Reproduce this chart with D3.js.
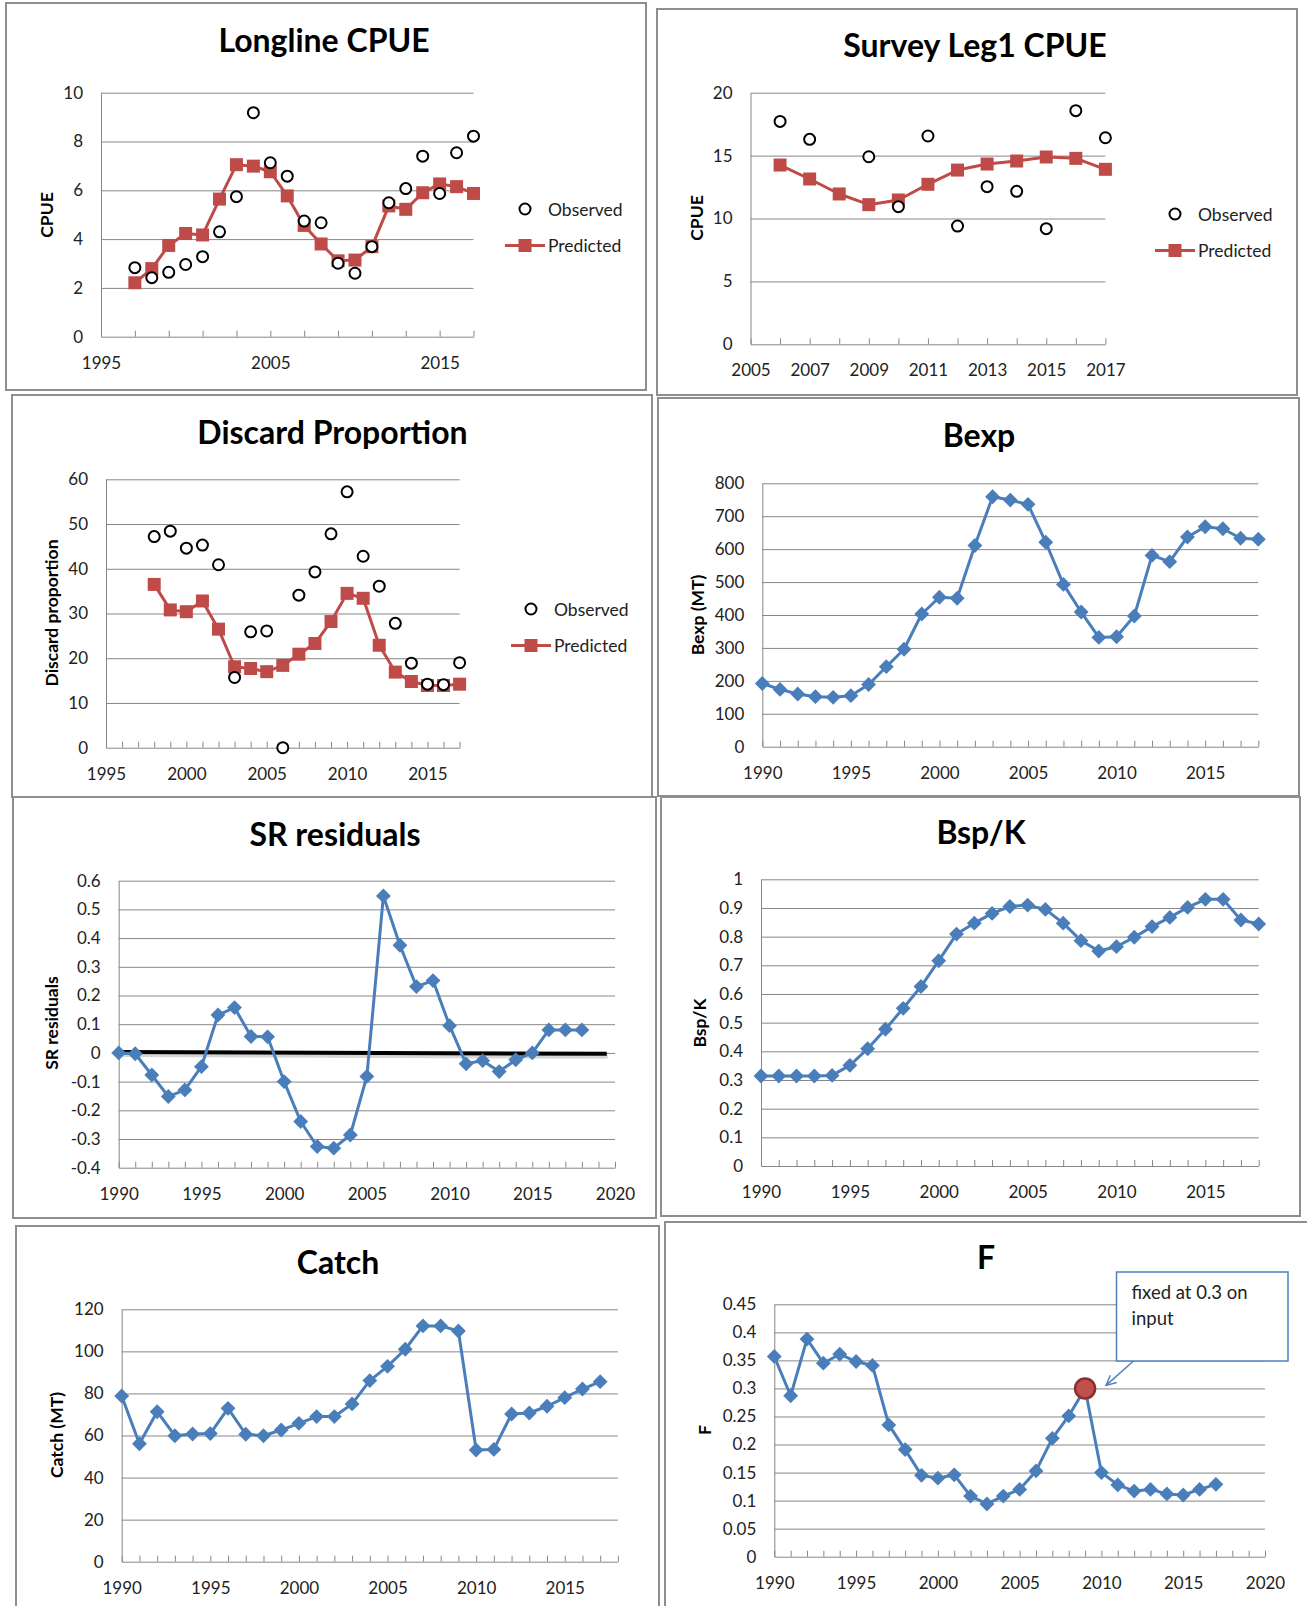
<!DOCTYPE html>
<html><head><meta charset="utf-8">
<script src="https://cdn.jsdelivr.net/npm/d3@7"></script>
<style>
body{margin:0;background:#fff;}
svg{display:block;}
</style></head><body>
<svg id="chart" width="1307" height="1606"></svg>
<script>
// ---------------- DATA ----------------
const longlineYears = [1997,1998,1999,2000,2001,2002,2003,2004,2005,2006,2007,2008,2009,2010,2011,2012,2013,2014,2015,2016,2017];
const longlineObserved = [2.83,2.42,2.64,2.96,3.28,4.30,5.74,9.18,7.13,6.58,4.74,4.67,3.01,2.60,3.69,5.49,6.07,7.40,5.87,7.54,8.22];
const longlinePredicted = [2.21,2.79,3.74,4.23,4.17,5.64,7.05,6.99,6.76,5.77,4.56,3.80,3.11,3.14,3.69,5.36,5.22,5.90,6.26,6.15,5.87];
const longlineXLabels = [1995,2005,2015];
const longlineYTicks = [0,2,4,6,8,10];

const surveyObsYears = [2006,2007,2009,2010,2011,2012,2013,2014,2015,2016,2017];
const surveyObserved = [17.72,16.29,14.91,10.94,16.56,9.40,12.53,12.16,9.19,18.57,16.42];
const surveyPredYears = [2006,2007,2008,2009,2010,2011,2012,2013,2014,2015,2016,2017];
const surveyPredicted = [14.25,13.14,11.95,11.10,11.47,12.72,13.85,14.33,14.57,14.89,14.78,13.91];
const surveyXLabels = [2005,2007,2009,2011,2013,2015,2017];
const surveyYTicks = [0,5,10,15,20];

const discardYears = [1998,1999,2000,2001,2002,2003,2004,2005,2006,2007,2008,2009,2010,2011,2012,2013,2014,2015,2016,2017];
const discardObserved = [47.2,48.4,44.6,45.3,40.9,15.7,25.9,26.1,0,34.1,39.3,47.8,57.2,42.8,36.1,27.8,18.9,14.2,14.1,19.0];
const discardPredicted = [36.5,30.8,30.4,32.8,26.5,18.1,17.7,17.0,18.4,20.9,23.3,28.2,34.5,33.4,22.9,16.9,14.8,13.9,13.9,14.2];
const discardXLabels = [1995,2000,2005,2010,2015];
const discardYTicks = [0,10,20,30,40,50,60];

const bexpYears = [1990,1991,1992,1993,1994,1995,1996,1997,1998,1999,2000,2001,2002,2003,2004,2005,2006,2007,2008,2009,2010,2011,2012,2013,2014,2015,2016,2017,2018];
const bexpValues = [192,174,160,152,150,155,189,243,296,403,454,451,611,759,749,736,621,493,409,332,334,397,581,562,637,668,662,633,630];
const bexpXLabels = [1990,1995,2000,2005,2010,2015];
const bexpYTicks = [0,100,200,300,400,500,600,700,800];

const srYears = [1990,1991,1992,1993,1994,1995,1996,1997,1998,1999,2000,2001,2002,2003,2004,2005,2006,2007,2008,2009,2010,2011,2012,2013,2014,2015,2016,2017,2018];
const srValues = [0.000,-0.003,-0.077,-0.152,-0.129,-0.048,0.132,0.158,0.057,0.056,-0.100,-0.239,-0.326,-0.332,-0.286,-0.082,0.547,0.375,0.231,0.252,0.095,-0.038,-0.027,-0.065,-0.024,0.000,0.080,0.080,0.080];
const srZeroLineYears = [1990,2019.5];
const srZeroLineValues = [0.003,-0.003];
const srXLabels = [1990,1995,2000,2005,2010,2015,2020];
const srYTicks = [-0.4,-0.3,-0.2,-0.1,0,0.1,0.2,0.3,0.4,0.5,0.6];

const bspYears = [1990,1991,1992,1993,1994,1995,1996,1997,1998,1999,2000,2001,2002,2003,2004,2005,2006,2007,2008,2009,2010,2011,2012,2013,2014,2015,2016,2017,2018];
const bspValues = [0.314,0.314,0.314,0.314,0.316,0.351,0.409,0.477,0.550,0.626,0.716,0.809,0.847,0.881,0.905,0.910,0.895,0.847,0.786,0.750,0.765,0.798,0.835,0.867,0.902,0.930,0.930,0.858,0.844];
const bspXLabels = [1990,1995,2000,2005,2010,2015];
const bspYTicks = [0,0.1,0.2,0.3,0.4,0.5,0.6,0.7,0.8,0.9,1];

const catchYears = [1990,1991,1992,1993,1994,1995,1996,1997,1998,1999,2000,2001,2002,2003,2004,2005,2006,2007,2008,2009,2010,2011,2012,2013,2014,2015,2016,2017];
const catchValues = [78.8,56.1,71.3,59.9,60.7,60.9,72.9,60.6,59.9,62.6,65.8,69.0,69.0,75.0,86.1,92.9,101.0,112.1,112.1,109.7,53.1,53.4,70.2,70.7,73.9,78.0,82.1,85.6];
const catchXLabels = [1990,1995,2000,2005,2010,2015];
const catchYTicks = [0,20,40,60,80,100,120];

const fYears = [1990,1991,1992,1993,1994,1995,1996,1997,1998,1999,2000,2001,2002,2003,2004,2005,2006,2007,2008,2009,2010,2011,2012,2013,2014,2015,2016,2017];
const fValues = [0.357,0.287,0.388,0.345,0.361,0.348,0.341,0.235,0.191,0.145,0.140,0.146,0.108,0.094,0.108,0.120,0.153,0.211,0.251,0.300,0.150,0.128,0.117,0.120,0.112,0.110,0.120,0.129];
const fFixedYear = [2009];
const fFixedValue = [0.3];
const fNoteLines = ["fixed at 0.3 on", "input"];
const fXLabels = [1990,1995,2000,2005,2010,2015,2020];
const fYTicks = [0,0.05,0.1,0.15,0.2,0.25,0.3,0.35,0.4,0.45];

const legendLabels = ["Observed", "Predicted"];

// ---------------- STYLE ----------------
const FONT = "Lato, 'Open Sans', 'Noto Sans', sans-serif";
const GRID = '#878787';
const BLUE = '#4A7EBB';
const RED = '#BE4B48';

const svg = d3.select('#chart');
svg.append('rect').attr('width', 1307).attr('height', 1606).attr('fill', '#fff');

function drawPanel(o) {
  const g = svg.append('g');
  const [bx0, by0, bx1, by1] = o.box;
  g.append('rect').attr('x', bx0).attr('y', by0).attr('width', bx1 - bx0).attr('height', by1 - by0)
    .attr('fill', '#fff').attr('stroke', '#8e8e8e').attr('stroke-width', 2);

  const [px0, py0, px1, py1] = o.plot;
  const x = d3.scaleLinear().domain(o.xDomain).range([px0, px1]);
  const y = d3.scaleLinear().domain(o.yDomain).range([py1, py0]);

  // gridlines
  g.append('g').attr('transform', `translate(${px0},0)`)
    .call(d3.axisLeft(y).tickValues(o.yTicks.filter(v => v !== o.yDomain[0])).tickSize(-(px1 - px0)).tickFormat(''))
    .call(s => s.select('.domain').remove())
    .call(s => s.selectAll('line').attr('stroke', GRID).attr('stroke-width', 1));

  // y axis labels + line
  g.append('g').attr('transform', `translate(${px0},0)`)
    .call(d3.axisLeft(y).tickValues(o.yTicks).tickSize(0).tickPadding(18).tickFormat(d => String(d)))
    .call(s => s.select('.domain').attr('stroke', GRID).attr('stroke-width', 1))
    .call(s => s.selectAll('text').attr('font-size', 17).attr('font-family', FONT).attr('fill', '#222'));

  // x axis
  const minor = d3.range(o.xDomain[0], o.xDomain[1] + 0.001, o.xMinorStep);
  g.append('g').attr('transform', `translate(0,${py1})`)
    .call(d3.axisBottom(x).tickValues(minor).tickSizeInner(-6).tickSizeOuter(0).tickPadding(20)
      .tickFormat(d => o.xLabels.includes(d) ? String(d) : ''))
    .call(s => s.select('.domain').attr('stroke', GRID).attr('stroke-width', 1))
    .call(s => s.selectAll('line').attr('stroke', GRID).attr('stroke-width', 1))
    .call(s => s.selectAll('text').attr('font-size', 17).attr('font-family', FONT).attr('fill', '#222'));

  // title
  g.append('text').attr('x', o.title.x).attr('y', o.title.y).attr('text-anchor', 'middle')
    .attr('font-family', FONT).attr('font-weight', 700).attr('font-size', 32).attr('fill', '#000')
    .text(o.title.text);

  // y-axis title
  g.append('text').attr('transform', `translate(${o.yTitle.x},${o.yTitle.y}) rotate(-90)`)
    .attr('text-anchor', 'middle').attr('dominant-baseline', 'central')
    .attr('font-family', FONT).attr('font-weight', 700).attr('font-size', 17.5).attr('fill', '#000')
    .text(o.yTitle.text);

  if (o.pre) o.pre(g, x, y);

  o.series.forEach(s => {
    const pts = s.xs.map((xx, i) => [xx, s.ys[i]]);
    if (s.line) {
      g.append('path').datum(pts)
        .attr('d', d3.line().x(d => x(d[0])).y(d => y(d[1])))
        .attr('fill', 'none').attr('stroke', s.color).attr('stroke-width', 3)
        .attr('stroke-linejoin', 'round');
    }
    drawMarkers(g, pts.map(d => [x(d[0]), y(d[1])]), s.marker, s.color);
  });

  if (o.legend) {
    const L = o.legend;
    drawMarkers(g, [[L.x, L.y1]], 'circle', '#000');
    g.append('line').attr('x1', L.x - 20).attr('x2', L.x + 20).attr('y1', L.y2).attr('y2', L.y2)
      .attr('stroke', RED).attr('stroke-width', 3);
    drawMarkers(g, [[L.x, L.y2]], 'square', RED);
    [L.y1, L.y2].forEach((yy, i) => {
      g.append('text').attr('x', L.x + 23).attr('y', yy).attr('dominant-baseline', 'central')
        .attr('font-family', FONT).attr('font-size', 17.5).attr('fill', '#222').text(legendLabels[i]);
    });
  }
  if (o.post) o.post(g, x, y);
}

function drawMarkers(g, pts, type, color) {
  const sel = g.append('g').selectAll('path').data(pts).join('path')
    .attr('transform', d => `translate(${d[0]},${d[1]})` + (type === 'diamond' ? ' rotate(45)' : ''));
  if (type === 'circle') {
    sel.attr('d', d3.symbol(d3.symbolCircle, Math.PI * 5.5 * 5.5)())
      .attr('fill', '#fff').attr('stroke', '#000').attr('stroke-width', 2);
  } else if (type === 'square') {
    sel.attr('d', d3.symbol(d3.symbolSquare, 13 * 13)()).attr('fill', color);
  } else {
    sel.attr('d', d3.symbol(d3.symbolSquare, 10.5 * 10.5)()).attr('fill', color);
  }
}

// ---------------- PANELS ----------------
drawPanel({
  box: [6, 3, 646, 390], plot: [101, 92.7, 473.5, 336.7],
  xDomain: [1995, 2017], yDomain: [0, 10], xMinorStep: 2, xLabels: longlineXLabels, yTicks: longlineYTicks,
  title: {text: 'Longline CPUE', x: 324, y: 52}, yTitle: {text: 'CPUE', x: 46, y: 215},
  series: [
    {xs: longlineYears, ys: longlinePredicted, line: true, marker: 'square', color: RED},
    {xs: longlineYears, ys: longlineObserved, line: false, marker: 'circle', color: '#000'}
  ],
  legend: {x: 525, y1: 209, y2: 245.5}
});

drawPanel({
  box: [657, 9, 1297, 395], plot: [750.5, 92.7, 1105.4, 344.3],
  xDomain: [2005, 2017], yDomain: [0, 20], xMinorStep: 1, xLabels: surveyXLabels, yTicks: surveyYTicks,
  title: {text: 'Survey Leg1 CPUE', x: 975, y: 57}, yTitle: {text: 'CPUE', x: 696, y: 218},
  series: [
    {xs: surveyPredYears, ys: surveyPredicted, line: true, marker: 'square', color: RED},
    {xs: surveyObsYears, ys: surveyObserved, line: false, marker: 'circle', color: '#000'}
  ],
  legend: {x: 1175, y1: 214, y2: 250.5}
});

drawPanel({
  box: [12, 395, 652, 797], plot: [106, 479.3, 459.6, 747.7],
  xDomain: [1995, 2017], yDomain: [0, 60], xMinorStep: 1, xLabels: discardXLabels, yTicks: discardYTicks,
  title: {text: 'Discard Proportion', x: 332.5, y: 444}, yTitle: {text: 'Discard proportion', x: 51, y: 613},
  series: [
    {xs: discardYears, ys: discardPredicted, line: true, marker: 'square', color: RED},
    {xs: discardYears, ys: discardObserved, line: false, marker: 'circle', color: '#000'}
  ],
  legend: {x: 531, y1: 609, y2: 645.5}
});

drawPanel({
  box: [658, 398, 1299, 796], plot: [762.3, 483.3, 1258.3, 746.7],
  xDomain: [1990, 2018], yDomain: [0, 800], xMinorStep: 1, xLabels: bexpXLabels, yTicks: bexpYTicks,
  title: {text: 'Bexp', x: 979, y: 447}, yTitle: {text: 'Bexp (MT)', x: 697, y: 615},
  series: [{xs: bexpYears, ys: bexpValues, line: true, marker: 'diamond', color: BLUE}]
});

drawPanel({
  box: [13, 797, 656, 1218], plot: [118.7, 880.7, 615, 1167.7],
  xDomain: [1990, 2020], yDomain: [-0.4, 0.6], xMinorStep: 1, xLabels: srXLabels, yTicks: srYTicks,
  title: {text: 'SR residuals', x: 335, y: 846}, yTitle: {text: 'SR residuals', x: 51, y: 1023},
  pre: (g, x, y) => {
    const pts = srZeroLineYears.map((yr, i) => [yr, srZeroLineValues[i]]);
    g.append('path').datum(pts)
      .attr('d', d3.line().x(d => x(d[0]) + 1).y(d => y(d[1]) + 3))
      .attr('stroke', '#bbb').attr('stroke-width', 4).attr('fill', 'none').attr('opacity', 0.6);
    g.append('path').datum(pts)
      .attr('d', d3.line().x(d => x(d[0])).y(d => y(d[1])))
      .attr('stroke', '#000').attr('stroke-width', 4).attr('fill', 'none');
  },
  series: [{xs: srYears, ys: srValues, line: true, marker: 'diamond', color: BLUE}]
});

drawPanel({
  box: [661, 797, 1300, 1216], plot: [761, 879.3, 1258.7, 1166],
  xDomain: [1990, 2018], yDomain: [0, 1], xMinorStep: 1, xLabels: bspXLabels, yTicks: bspYTicks,
  title: {text: 'Bsp/K', x: 981, y: 844}, yTitle: {text: 'Bsp/K', x: 699, y: 1023},
  series: [{xs: bspYears, ys: bspValues, line: true, marker: 'diamond', color: BLUE}]
});

drawPanel({
  box: [16, 1226, 659, 1620], plot: [121.7, 1309.3, 617.9, 1561.7],
  xDomain: [1990, 2018], yDomain: [0, 120], xMinorStep: 1, xLabels: catchXLabels, yTicks: catchYTicks,
  title: {text: 'Catch', x: 338, y: 1274}, yTitle: {text: 'Catch (MT)', x: 56, y: 1435},
  series: [{xs: catchYears, ys: catchValues, line: true, marker: 'diamond', color: BLUE}]
});

drawPanel({
  box: [665, 1222, 1320, 1620], plot: [774.3, 1304.3, 1265, 1556.7],
  xDomain: [1990, 2020], yDomain: [0, 0.45], xMinorStep: 1, xLabels: fXLabels, yTicks: fYTicks,
  title: {text: 'F', x: 986, y: 1269}, yTitle: {text: 'F', x: 704, y: 1430},
  series: [{xs: fYears, ys: fValues, line: true, marker: 'diamond', color: BLUE}],
  post: (g, x, y) => {
    // highlighted fixed point
    g.selectAll('circle.fixed').data(fFixedYear.map((yr, i) => [yr, fFixedValue[i]])).join('circle')
      .attr('cx', d => x(d[0])).attr('cy', d => y(d[1])).attr('r', 10)
      .attr('fill', '#C0504D').attr('stroke', '#8C2F2D').attr('stroke-width', 2.5);
    // callout box
    const bx = 1116.5, by = 1272, bw = 171.5, bh = 89;
    g.append('rect').attr('x', bx).attr('y', by).attr('width', bw).attr('height', bh)
      .attr('fill', '#fff').attr('stroke', '#4F81BD').attr('stroke-width', 1.5);
    fNoteLines.forEach((t, i) => {
      g.append('text').attr('x', bx + 15).attr('y', by + 27 + i * 26)
        .attr('font-family', FONT).attr('font-size', 18.5).attr('fill', '#222').text(t);
    });
    // arrow
    const tipX = x(fFixedYear[0]) + 21, tipY = y(fFixedValue[0]) - 3;
    const sx = bx + 17, sy = by + bh;
    g.append('line').attr('x1', sx).attr('y1', sy).attr('x2', tipX).attr('y2', tipY)
      .attr('stroke', '#4F81BD').attr('stroke-width', 1.5);
    const ang = Math.atan2(tipY - sy, tipX - sx);
    const ah = 11, spread = 0.45;
    const p1 = [tipX - ah * Math.cos(ang - spread), tipY - ah * Math.sin(ang - spread)];
    const p2 = [tipX - ah * Math.cos(ang + spread), tipY - ah * Math.sin(ang + spread)];
    g.append('path').attr('d', `M${p1[0]},${p1[1]}L${tipX},${tipY}L${p2[0]},${p2[1]}`)
      .attr('fill', 'none').attr('stroke', '#4F81BD').attr('stroke-width', 1.5);
  }
});
</script>
</body></html>
